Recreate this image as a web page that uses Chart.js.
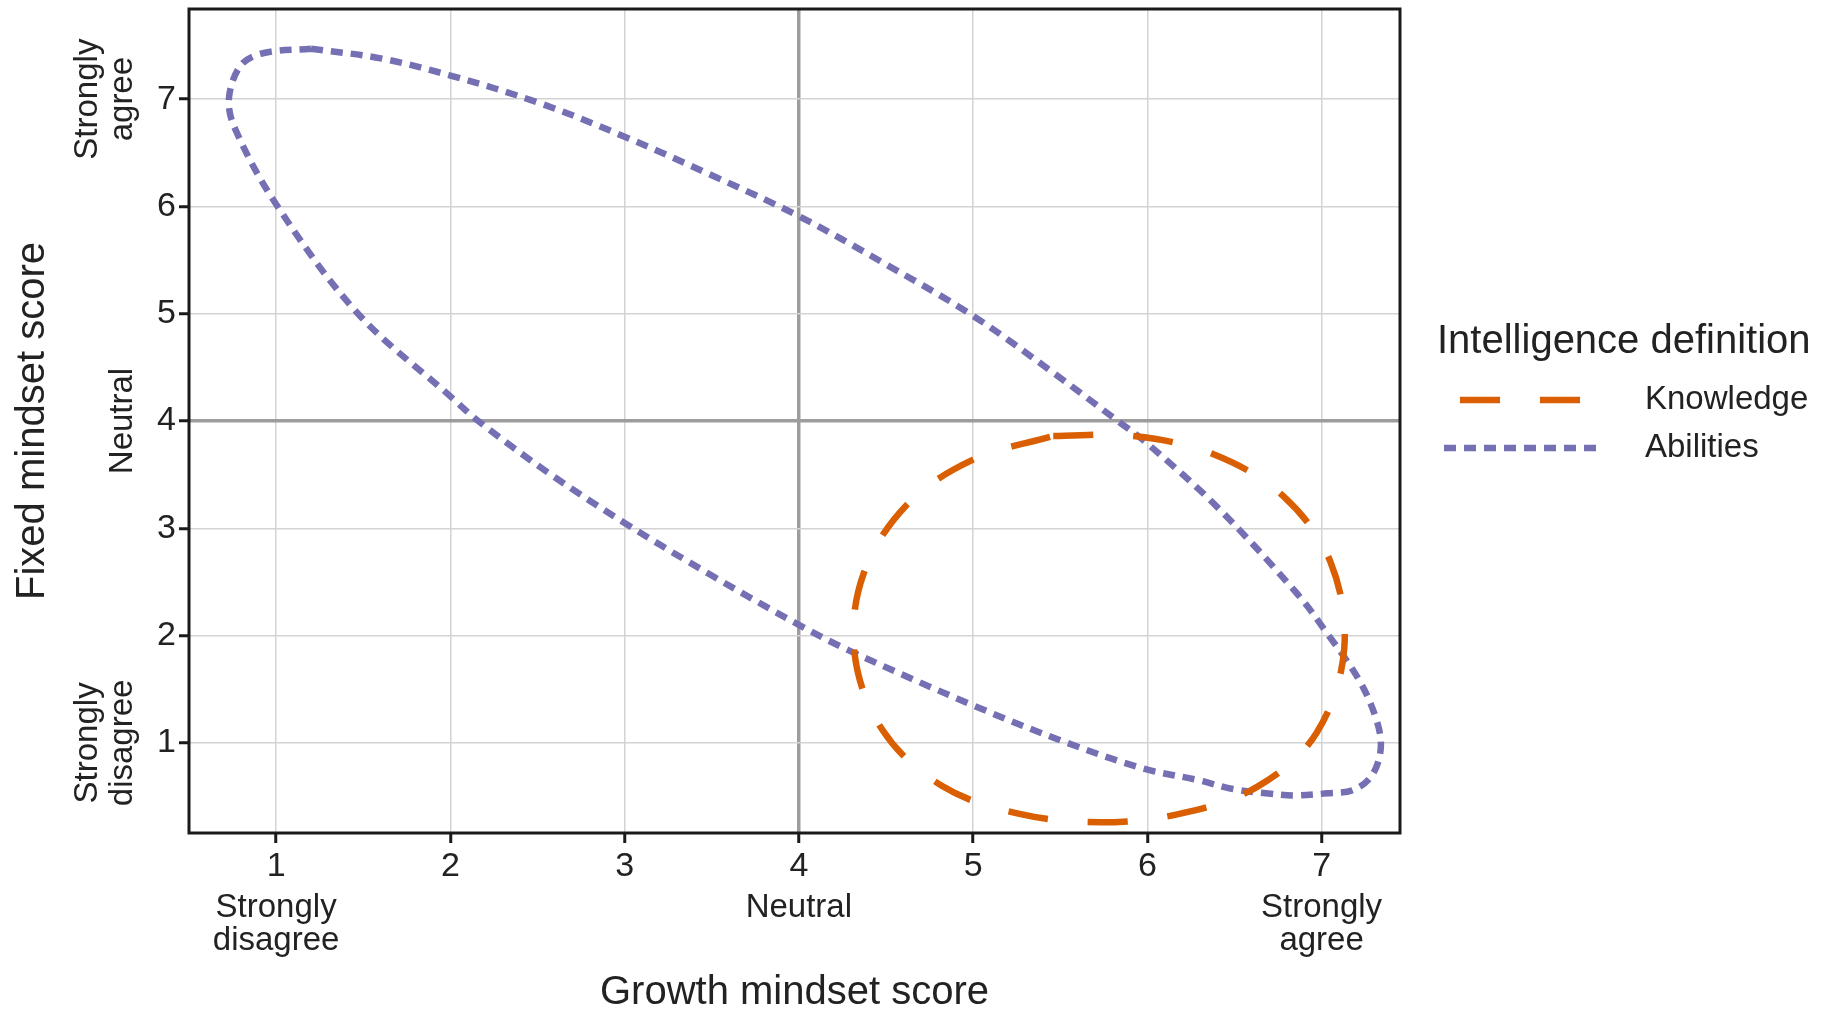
<!DOCTYPE html>
<html lang="en">
<head>
<meta charset="UTF-8" />
<title>Growth vs fixed mindset score</title>
<script src="https://cdn.jsdelivr.net/npm/chart.js"></script>
<style>
  html, body { margin: 0; padding: 0; background: #fff; }
</style>
</head>
<body>
<canvas id="mindsetChart" width="1829" height="1009"></canvas>
<script>
// ellipse outlines (growth score, fixed score)
const knowledgeX = [5.46, 5.92, 6.38, 6.78, 7.05, 7.13, 6.97, 6.63, 6.19, 5.73, 5.26, 4.82, 4.48, 4.32, 4.37, 4.62, 5.00, 5.46];
const knowledgeY = [3.86, 3.86, 3.69, 3.30, 2.69, 1.88, 1.09, 0.59, 0.34, 0.26, 0.34, 0.60, 1.12, 1.83, 2.57, 3.22, 3.64, 3.86];

const abilitiesX = [1.2, 1.6, 2, 2.5, 3, 3.5, 4, 4.5, 5, 5.46, 5.83, 6, 6.40, 6.86, 7.01, 7.21, 7.31, 7.34, 7.29, 7.18, 7.03, 6.85, 6.68, 6.49, 6.30, 5.98, 5.54, 5, 4.29, 4, 3.5, 3, 2.56, 2.16, 2, 1.47, 1, 0.76, 0.73, 0.80, 0.93, 1.2];
const abilitiesY = [7.47, 7.38, 7.22, 6.97, 6.65, 6.29, 5.91, 5.46, 4.98, 4.45, 4.0, 3.79, 3.20, 2.39, 2.07, 1.60, 1.24, 0.96, 0.70, 0.56, 0.53, 0.51, 0.53, 0.57, 0.65, 0.76, 1.0, 1.35, 1.86, 2.10, 2.56, 3.05, 3.52, 4.0, 4.23, 5.0, 6.02, 6.74, 7.02, 7.32, 7.43, 7.47];

const xTicks = [1, 2, 3, 4, 5, 6, 7];
const yTicks = [1, 2, 3, 4, 5, 6, 7];
const anchorValues = [1, 4, 7];
const xAnchorLabels = [["Strongly", "disagree"], ["Neutral"], ["Strongly", "agree"]];
const yAnchorLabels = [["Strongly", "disagree"], ["Neutral"], ["Strongly", "agree"]];

const FONT = "'Liberation Sans', Arial, Helvetica, sans-serif";
const TEXT = "#222222";

function toPoints(xs, ys) {
  return xs.map((v, i) => ({ x: v, y: ys[i] }));
}

// grid: light lines, darker "neutral" lines at 4
const gridColor = (c) => (c.tick && c.tick.value === 4 ? "#9d9d9d" : "#d3d3d3");
const gridWidth = (c) => (c.tick && c.tick.value === 4 ? 3.5 : 1.5);

const decorations = {
  id: "decorations",
  afterDatasetsDraw(chart) {
    const { ctx, chartArea: a, scales } = chart;
    ctx.save();

    // panel border
    ctx.strokeStyle = "#1a1a1a";
    ctx.lineWidth = 3;
    ctx.strokeRect(a.left, a.top, a.right - a.left, a.bottom - a.top);

    // anchor labels under / beside the numeric ticks
    ctx.fillStyle = TEXT;
    ctx.font = "33px " + FONT;
    ctx.textAlign = "center";
    ctx.textBaseline = "middle";
    anchorValues.forEach((v, i) => {
      const px = scales.x.getPixelForValue(v);
      xAnchorLabels[i].forEach((line, j) => ctx.fillText(line, px, a.bottom + 75 + j * 33));
    });
    anchorValues.forEach((v, i) => {
      const py = scales.y.getPixelForValue(v);
      const lines = yAnchorLabels[i];
      ctx.save();
      ctx.translate(a.left - 66 - (lines.length - 1) * 35, py);
      ctx.rotate(-Math.PI / 2);
      lines.forEach((line, j) => ctx.fillText(line, 0, j * 35));
      ctx.restore();
    });

    // legend
    const lx = a.right + 37;
    ctx.textAlign = "left";
    ctx.font = "40px " + FONT;
    ctx.fillText("Intelligence definition", lx, 342);
    ctx.font = "33px " + FONT;
    chart.data.datasets.forEach((ds, i) => {
      const cy = 400 + i * 48;
      const [dash, gap] = ds.borderDash;
      const n = Math.floor((155 + gap) / (dash + gap));
      const w = n * dash + (n - 1) * gap;
      const cx = a.right + 120;
      ctx.strokeStyle = ds.borderColor;
      ctx.lineWidth = ds.borderWidth;
      ctx.setLineDash(ds.borderDash);
      ctx.beginPath();
      ctx.moveTo(cx - w / 2, cy);
      ctx.lineTo(cx + w / 2, cy);
      ctx.stroke();
      ctx.setLineDash([]);
      ctx.fillStyle = TEXT;
      ctx.fillText(ds.label, a.right + 245, cy);
    });
    ctx.restore();
  }
};

new Chart(document.getElementById("mindsetChart"), {
  type: "scatter",
  data: {
    datasets: [
      {
        label: "Knowledge",
        data: toPoints(knowledgeX, knowledgeY),
        showLine: true,
        borderColor: "#D95F02",
        borderWidth: 6.5,
        borderDash: [40, 40],
        tension: 0.35,
        pointRadius: 0
      },
      {
        label: "Abilities",
        data: toPoints(abilitiesX, abilitiesY),
        showLine: true,
        borderColor: "#7570B3",
        borderWidth: 6.5,
        borderDash: [12, 8],
        tension: 0.35,
        pointRadius: 0
      }
    ]
  },
  options: {
    responsive: false,
    animation: false,
    layout: { padding: { top: 9, right: 429, bottom: 0, left: 0 } },
    plugins: {
      legend: { display: false },
      tooltip: { enabled: false }
    },
    scales: {
      x: {
        type: "linear",
        min: 0.5,
        max: 7.45,
        afterBuildTicks: (s) => { s.ticks = xTicks.map((v) => ({ value: v })); },
        afterFit: (s) => { s.height = 176; s.paddingLeft = 0; s.paddingRight = 0; },
        border: { display: false },
        grid: { color: gridColor, lineWidth: gridWidth, tickColor: "#1a1a1a", tickWidth: 3, tickLength: 10 },
        ticks: { color: TEXT, font: { size: 34, family: FONT }, padding: 3, maxRotation: 0 },
        title: {
          display: true,
          text: "Growth mindset score",
          color: TEXT,
          font: { size: 40, family: FONT, lineHeight: 1 },
          padding: { top: 0, bottom: -4 }
        }
      },
      y: {
        type: "linear",
        min: 0.16,
        max: 7.84,
        afterBuildTicks: (s) => { s.ticks = yTicks.map((v) => ({ value: v })); },
        afterFit: (s) => { s.width = 189; s.paddingTop = 0; s.paddingBottom = 0; },
        border: { display: false },
        grid: { color: gridColor, lineWidth: gridWidth, tickColor: "#1a1a1a", tickWidth: 3, tickLength: 10 },
        ticks: { color: TEXT, font: { size: 34, family: FONT }, padding: 3 },
        title: {
          display: true,
          text: "Fixed mindset score",
          color: TEXT,
          font: { size: 40, family: FONT, lineHeight: 1 },
          padding: { top: 13, bottom: 0 }
        }
      }
    }
  },
  plugins: [decorations]
});
</script>
</body>
</html>
